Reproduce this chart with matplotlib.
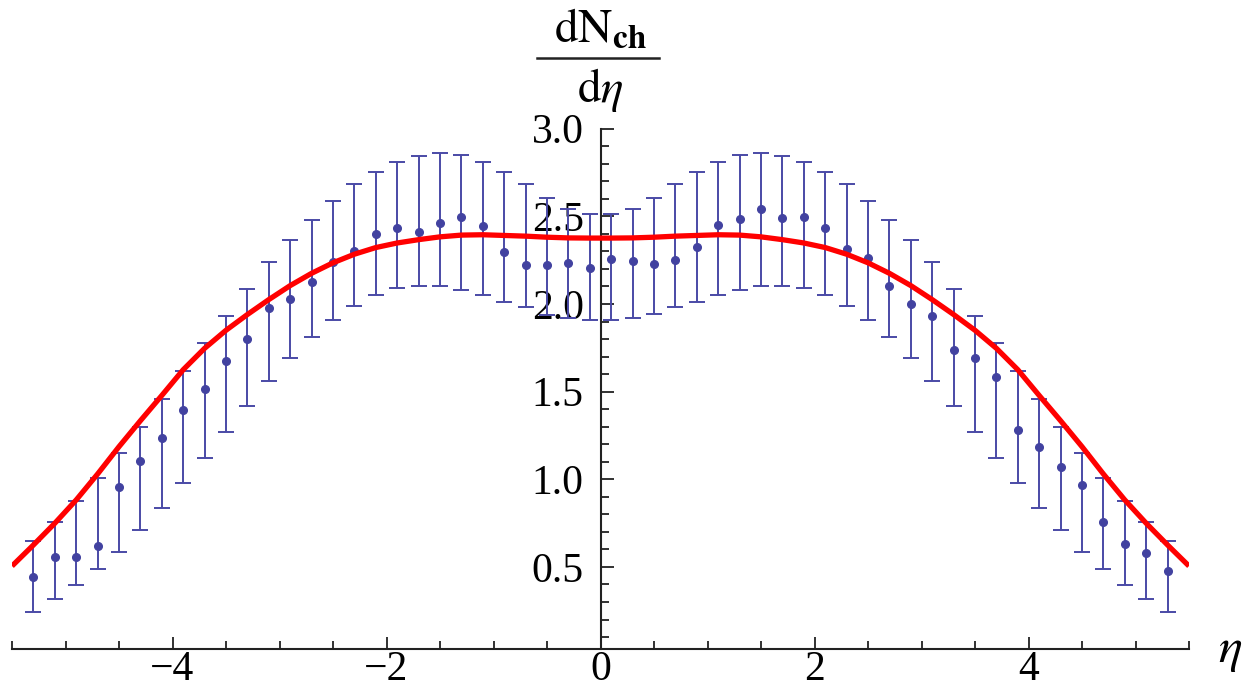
import matplotlib
matplotlib.use("Agg")
import matplotlib.pyplot as plt
from matplotlib.lines import Line2D
from matplotlib.ticker import MultipleLocator, FixedLocator

plt.rcParams['font.family'] = ['Liberation Serif', 'DejaVu Serif']
plt.rcParams['mathtext.fontset'] = 'stix'

# measured points: eta, dN/deta and the ends of each error bar
eta = [-5.3, -5.1, -4.9, -4.7, -4.5, -4.3, -4.1, -3.9, -3.7, -3.5, -3.3, -3.1, -2.9, -2.7,
       -2.5, -2.3, -2.1, -1.9, -1.7, -1.5, -1.3, -1.1, -0.9, -0.7, -0.5, -0.3, -0.1,
       0.1, 0.3, 0.5, 0.7, 0.9, 1.1, 1.3, 1.5, 1.7, 1.9, 2.1, 2.3, 2.5, 2.7,
       2.9, 3.1, 3.3, 3.5, 3.7, 3.9, 4.1, 4.3, 4.5, 4.7, 4.9, 5.1, 5.3]
dndeta = [0.44, 0.555, 0.559, 0.619, 0.958, 1.103, 1.237, 1.395, 1.515, 1.677, 1.800, 1.977, 2.027, 2.127,
          2.24, 2.302, 2.399, 2.435, 2.409, 2.462, 2.495, 2.443, 2.298, 2.221, 2.221, 2.232, 2.205,
          2.258, 2.247, 2.226, 2.251, 2.323, 2.451, 2.485, 2.540, 2.491, 2.498, 2.435, 2.316, 2.261, 2.105,
          2.002, 1.933, 1.738, 1.690, 1.582, 1.281, 1.186, 1.068, 0.968, 0.758, 0.629, 0.578, 0.477]
err_low = [0.245, 0.317, 0.397, 0.488, 0.587, 0.711, 0.838, 0.979, 1.120, 1.268, 1.418, 1.561, 1.690, 1.810,
           1.909, 1.990, 2.051, 2.093, 2.103, 2.103, 2.082, 2.051, 2.010, 1.985, 1.937, 1.918, 1.909,
           1.909, 1.918, 1.941, 1.981, 2.010, 2.051, 2.080, 2.103, 2.103, 2.093, 2.051, 1.990, 1.909, 1.810,
           1.690, 1.561, 1.418, 1.268, 1.120, 0.979, 0.838, 0.711, 0.587, 0.488, 0.397, 0.317, 0.245]
err_high = [0.650, 0.758, 0.876, 1.006, 1.148, 1.298, 1.458, 1.620, 1.779, 1.932, 2.085, 2.238, 2.365, 2.479,
            2.590, 2.685, 2.751, 2.812, 2.846, 2.860, 2.850, 2.812, 2.751, 2.685, 2.605, 2.540, 2.513,
            2.513, 2.540, 2.605, 2.683, 2.751, 2.812, 2.850, 2.860, 2.844, 2.812, 2.751, 2.683, 2.590, 2.479,
            2.365, 2.238, 2.085, 1.932, 1.779, 1.620, 1.458, 1.298, 1.148, 1.006, 0.876, 0.758, 0.650]

# model curve
curve_eta = [-5.5, -5.3, -5.1, -4.9, -4.7, -4.5, -4.3, -4.1, -3.9, -3.7, -3.5, -3.3, -3.1, -2.9,
             -2.7, -2.5, -2.3, -2.1, -1.9, -1.7, -1.5, -1.3, -1.1, -0.9, -0.7, -0.5, -0.3, -0.1,
             0.1, 0.3, 0.5, 0.7, 0.9, 1.1, 1.3, 1.5, 1.7, 1.9, 2.1, 2.3, 2.5, 2.7,
             2.9, 3.1, 3.3, 3.5, 3.7, 3.9, 4.1, 4.3, 4.5, 4.7, 4.9, 5.1, 5.3, 5.5]
curve_val = [0.505, 0.625, 0.749, 0.882, 1.030, 1.186, 1.334, 1.478, 1.625, 1.747, 1.850, 1.940, 2.025, 2.105,
             2.175, 2.235, 2.284, 2.322, 2.348, 2.367, 2.383, 2.393, 2.395, 2.391, 2.387, 2.381, 2.377, 2.376,
             2.376, 2.377, 2.381, 2.387, 2.391, 2.395, 2.393, 2.383, 2.367, 2.348, 2.322, 2.284, 2.235, 2.175,
             2.105, 2.025, 1.940, 1.850, 1.747, 1.625, 1.478, 1.334, 1.186, 1.030, 0.882, 0.749, 0.625, 0.505]

x_ticks = [-4, -2, 0, 2, 4]
y_ticks = [0.5, 1.0, 1.5, 2.0, 2.5, 3.0]

fig = plt.figure(figsize=(12.46, 6.91), dpi=100)
ax = fig.add_axes([12 / 1246, 1 - 649.3 / 691, (1189 - 12) / 1246, (649.3 - 128.7) / 691])

yerr = [[v - lo for v, lo in zip(dndeta, err_low)],
        [hi - v for v, hi in zip(dndeta, err_high)]]
ax.errorbar(eta, dndeta, yerr=yerr, fmt='o', color='#4242a0', ecolor='#4a4aa6',
            markersize=5.5, elinewidth=1.4, capsize=5.5, capthick=1.4, zorder=3)
ax.plot(curve_eta, curve_val, color='#ff0000', lw=3.8, zorder=4, solid_capstyle='butt')

ax.set_xlim(-5.5, 5.5)
ax.set_ylim(0.03, 3.0)

# Mathematica style axes crossing at eta = 0
ax.spines['left'].set_position(('data', 0))
ax.spines['top'].set_visible(False)
ax.spines['right'].set_visible(False)
for side in ['left', 'bottom']:
    ax.spines[side].set_linewidth(1.5)
    ax.spines[side].set_color('#222222')

ax.xaxis.set_major_locator(FixedLocator(x_ticks))
ax.xaxis.set_minor_locator(MultipleLocator(0.5))
ax.yaxis.set_major_locator(FixedLocator(y_ticks))
ax.yaxis.set_minor_locator(MultipleLocator(0.1))
ax.set_yticklabels(['%.1f' % v for v in y_ticks])
ax.set_xticklabels(['\u22124', '\u22122', '0', '2', '4'])

ax.tick_params(axis='both', which='both', direction='in', color='#222222', width=1.3)
ax.tick_params(axis='both', which='major', length=9, labelsize=30)
ax.tick_params(axis='both', which='minor', length=5.5)
ax.tick_params(axis='x', which='major', pad=1)
ax.tick_params(axis='y', which='major', pad=12)

# axis labels
fig.text(600 / 1246, 1 - 42 / 691, r'$\mathrm{dN}_{\mathbf{ch}}$', ha='center', va='baseline', fontsize=34)
fig.add_artist(Line2D([537 / 1246, 659 / 1246], [1 - 58 / 691, 1 - 58 / 691],
                      transform=fig.transFigure, color='#222222', lw=1.8))
fig.text(600 / 1246, 1 - 102 / 691, r'$\mathrm{d}\eta$', ha='center', va='baseline', fontsize=34)
fig.text(1230 / 1246, 1 - 662 / 691, r'$\eta$', ha='center', va='baseline', fontsize=36)

fig.savefig('out.png', dpi=100)
